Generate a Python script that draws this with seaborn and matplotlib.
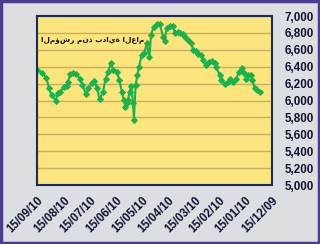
import matplotlib
matplotlib.use("Agg")
import matplotlib.pyplot as plt
import matplotlib.dates as mdates
from matplotlib.patches import Rectangle
import seaborn as sns
import pandas as pd

dates = [
    "2009-12-29", "2010-01-01", "2010-01-04", "2010-01-07", "2010-01-09", "2010-01-12",
    "2010-01-14", "2010-01-17", "2010-01-19", "2010-01-22", "2010-01-26", "2010-01-30",
    "2010-02-02", "2010-02-04", "2010-02-08", "2010-02-12", "2010-02-14", "2010-02-18",
    "2010-02-20", "2010-02-23", "2010-02-27", "2010-03-02", "2010-03-05", "2010-03-08",
    "2010-03-11", "2010-03-14", "2010-03-17", "2010-03-19", "2010-03-23", "2010-03-26",
    "2010-03-29", "2010-04-01", "2010-04-04", "2010-04-07", "2010-04-10", "2010-04-13",
    "2010-04-17", "2010-04-19", "2010-04-21", "2010-04-25", "2010-04-28", "2010-05-02",
    "2010-05-05", "2010-05-07", "2010-05-10", "2010-05-13", "2010-05-16", "2010-05-19",
    "2010-05-21", "2010-05-23", "2010-05-25", "2010-05-26", "2010-05-28", "2010-05-30",
    "2010-06-01", "2010-06-02", "2010-06-04", "2010-06-06", "2010-06-08", "2010-06-11",
    "2010-06-14", "2010-06-18", "2010-06-21", "2010-06-24", "2010-06-27", "2010-06-30",
    "2010-07-04", "2010-07-07", "2010-07-10", "2010-07-13", "2010-07-17", "2010-07-20",
    "2010-07-24", "2010-07-27", "2010-07-31", "2010-08-04", "2010-08-07", "2010-08-10",
    "2010-08-11", "2010-08-15", "2010-08-19", "2010-08-22", "2010-08-24", "2010-08-29",
    "2010-09-01", "2010-09-04", "2010-09-09", "2010-09-15",
]
values = [
    6105, 6125, 6145, 6240, 6300, 6300,
    6260, 6330, 6380, 6340, 6260, 6220,
    6260, 6220, 6195, 6240, 6300, 6400,
    6440, 6470, 6460, 6420, 6480, 6540,
    6550, 6580, 6600, 6675, 6715, 6755,
    6785, 6800, 6815, 6795, 6880, 6880,
    6855, 6710, 6755, 6910, 6905, 6875,
    6775, 6510, 6675, 6560, 6540, 6400,
    6300, 6185, 5770, 5965, 6170, 6105,
    6005, 5965, 5925, 6005, 6105, 6240,
    6340, 6360, 6440, 6340, 6260, 6105,
    6015, 6145, 6235, 6205, 6145, 6075,
    6185, 6260, 6310, 6330, 6310, 6220,
    6170, 6155, 6105, 6085, 6000, 6065,
    6145, 6266, 6330, 6361,
]
tick_dates = ["2009-12-15", "2010-01-15", "2010-02-15", "2010-03-15", "2010-04-15",
              "2010-05-15", "2010-06-15", "2010-07-15", "2010-08-15", "2010-09-15"]
y_ticks = [5000, 5200, 5400, 5600, 5800, 6000, 6200, 6400, 6600, 6800, 7000]
title_text = "المؤشر منذ بداية العام"

df = pd.DataFrame({"date": pd.to_datetime(dates), "value": values})

sns.set_style("white")
plt.rcParams["font.family"] = ["Liberation Sans", "DejaVu Sans"]

fig = plt.figure(figsize=(3.2, 2.44), dpi=100)
fig.patch.set_facecolor("#dcdfe2")
fig.patches.append(Rectangle((0.004, 0.006), 0.992, 0.99, transform=fig.transFigure,
                             fill=False, edgecolor="#4a3d8f", linewidth=2.5))
ax = fig.add_axes([0.1156, 0.2418, 0.7344, 0.6926])
ax.set_facecolor("#fce57c")

green = "#1db14e"
sns.lineplot(data=df, x="date", y="value", ax=ax, color=green, linewidth=1.5,
             marker="D", markersize=3.0, markeredgecolor=green, markerfacecolor=green)

ax.set_ylim(5000, 7000)
ax.set_xlim(pd.Timestamp("2010-09-15"), pd.Timestamp("2009-12-15"))
ax.set_yticks(y_ticks)
ax.set_yticklabels([f"{v:,}" for v in y_ticks])
ax.yaxis.tick_right()
ax.set_xticks(pd.to_datetime(tick_dates))
ax.xaxis.set_major_formatter(mdates.DateFormatter("%d/%m/%y"))
ax.grid(axis="y", color="#c6ae62", linewidth=1.0)
ax.set_axisbelow(True)
ax.set_xlabel("")
ax.set_ylabel("")

ax.tick_params(axis="y", length=0, pad=9, labelsize=8.4, labelcolor="#111133")
ax.tick_params(axis="x", direction="in", length=3, color="#b8a466", pad=7,
               labelsize=8.3, labelcolor="#111133")
for lbl in ax.get_yticklabels():
    lbl.set_fontweight("bold")
for lbl in ax.get_xticklabels():
    lbl.set_fontweight("bold")
    lbl.set_rotation(45)
    lbl.set_ha("right")
    lbl.set_rotation_mode("anchor")

for s in ax.spines.values():
    s.set_color("#1c2a5c")
    s.set_linewidth(1.5)

ax.text(0.235, 0.858, title_text, transform=ax.transAxes, ha="center", va="center",
        fontsize=5.3, fontweight="bold", color="#111111", family=["DejaVu Sans"])

fig.savefig("out.png", dpi=100, facecolor=fig.get_facecolor())
